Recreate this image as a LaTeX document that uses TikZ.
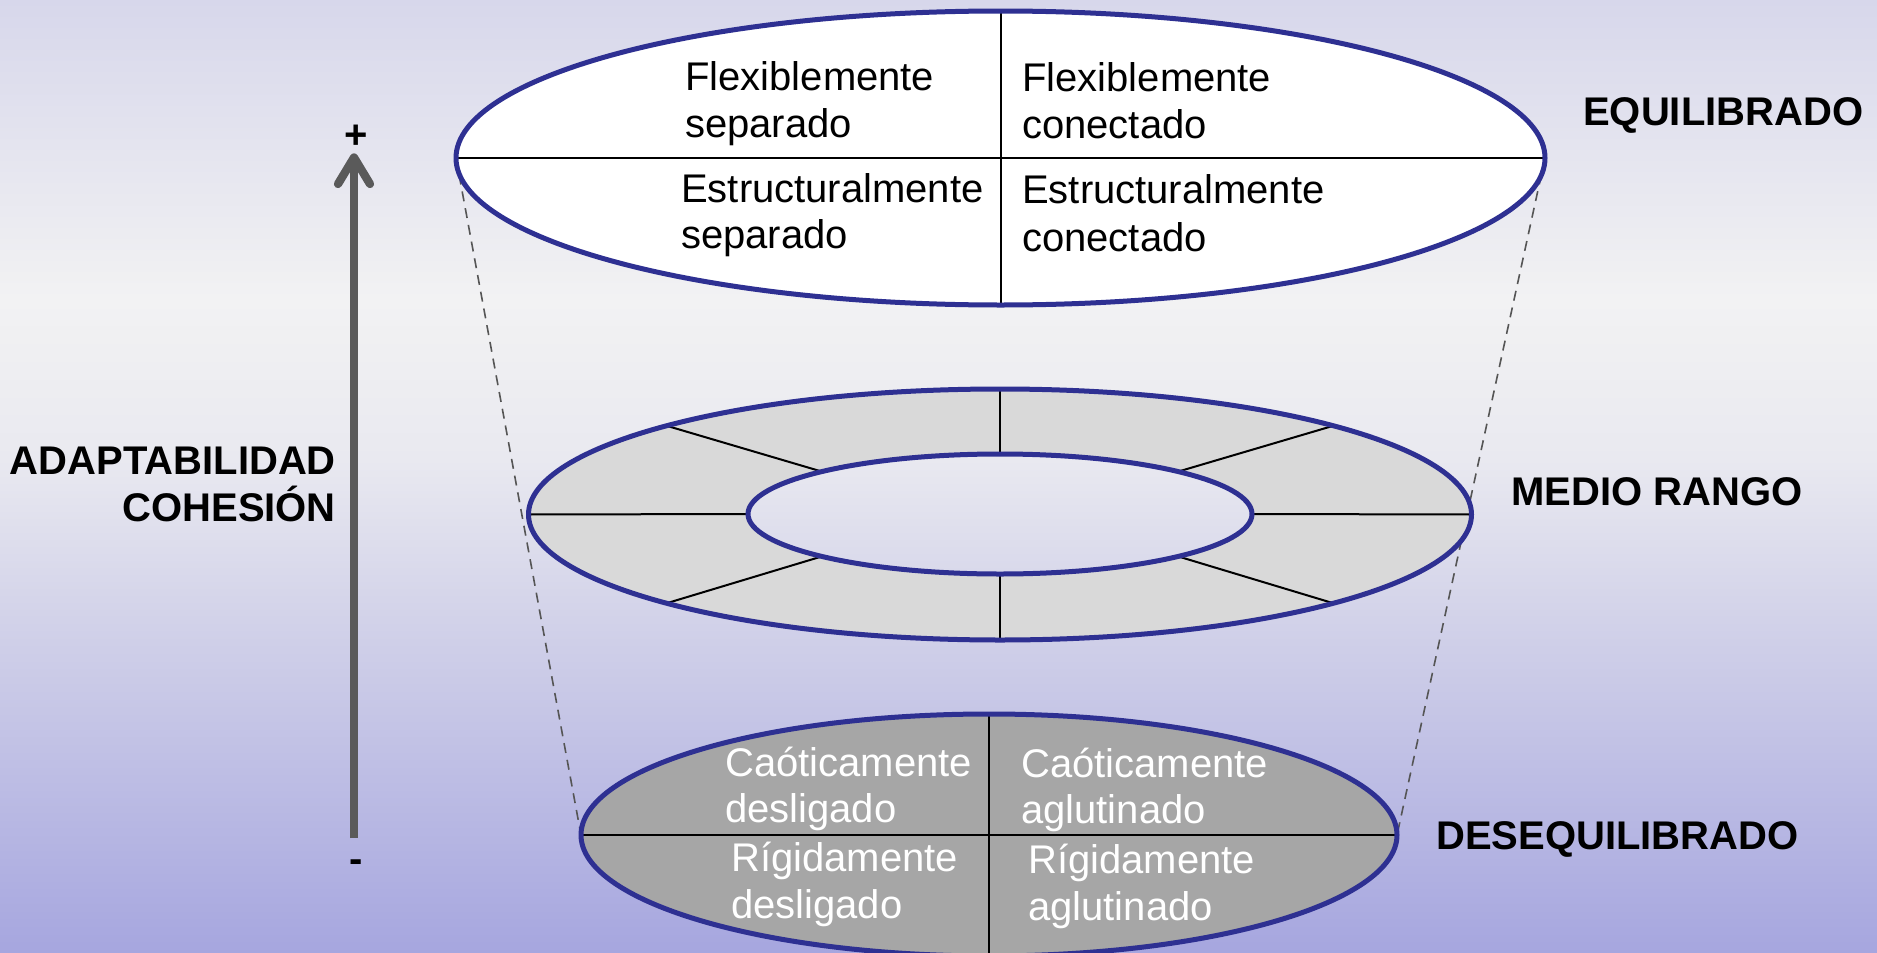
\documentclass[tikz,border=0pt]{standalone}
\usepackage{fontspec}
\setmainfont{Liberation Sans}
\definecolor{bgtop}{RGB}{215,215,235}
\definecolor{bga}{RGB}{242,242,243}
\definecolor{bgb}{RGB}{233,233,240}
\definecolor{bgc}{RGB}{210,210,233}
\definecolor{bgbot}{RGB}{166,166,223}
\definecolor{rimblue}{RGB}{46,48,146}
\definecolor{ringgray}{RGB}{217,217,217}
\definecolor{botgray}{RGB}{166,166,166}
\definecolor{axisgray}{RGB}{90,90,90}
\definecolor{dashgray}{RGB}{85,85,85}
\pgfdeclareverticalshading{bgshade}{100bp}{color(0bp)=(bgbot); color(25bp)=(bgbot); color(42.5bp)=(bgc); color(50.9bp)=(bgb); color(59.3bp)=(bga); color(75bp)=(bgtop); color(100bp)=(bgtop)}
\begin{document}
\begin{tikzpicture}[x=1pt,y=-1pt,
  txt/.style={font=\fontsize{40}{47}\selectfont, inner sep=0pt, anchor=base west},
  wtxt/.style={txt, text=white},
  lbl/.style={font=\fontsize{40}{47}\selectfont\bfseries, inner sep=0pt},
  outline/.style={draw=rimblue, line width=5pt},
  divider/.style={draw=black, line width=2pt},
  dashline/.style={draw=dashgray, line width=1.6pt, dash pattern=on 10pt off 7pt},
  axisline/.style={draw=axisgray, line width=8.3pt}]
\useasboundingbox (0,0) rectangle (1877,953);
\shade[shading=bgshade] (0,0) rectangle (1877,953);

% end points of the guide lines
\coordinate (TL) at (456,158);
\coordinate (TR) at (1545,158);
\coordinate (BL) at (581,835);
\coordinate (BR) at (1397,835);
\draw[dashline] (TL) -- (BL);
\draw[dashline] (TR) -- (BR);

% top ellipse
\fill[white] (1000.5,158) ellipse [x radius=544.5, y radius=147];
\coordinate (TT) at (1001,11);
\coordinate (TB) at (1001,305);
\draw[divider] (TL) -- (TR);
\draw[divider] (TT) -- (TB);
\draw[outline] (1000.5,158) ellipse [x radius=544.5, y radius=147];

% middle ring
\fill[ringgray, even odd rule] (1000,514.5) ellipse [x radius=471.5, y radius=125.5]
  (1000,514) ellipse [x radius=252, y radius=60];
\foreach \a in {0,45,...,315}{
  \draw[divider] ({1000+252*cos(\a)},{514+60*sin(\a)}) -- ({1000+471.5*cos(\a)},{514.5+125.5*sin(\a)});
}
\draw[outline] (1000,514.5) ellipse [x radius=471.5, y radius=125.5];
\draw[outline] (1000,514) ellipse [x radius=252, y radius=60];

% bottom ellipse
\fill[botgray] (989,835) ellipse [x radius=408, y radius=121];
\coordinate (BT) at (989,714);
\coordinate (BB) at (989,960);
\draw[divider] (BL) -- (BR);
\draw[divider] (BT) -- (BB);
\draw[outline] (989,835) ellipse [x radius=408, y radius=121];

% texts top ellipse
\node[txt] (t1a) at (685,90) {Flexiblemente};
\node[txt] (t1b) at (685,137) {separado};
\node[txt] (t2a) at (1022,91.5) {Flexiblemente};
\node[txt] (t2b) at (1022,138.5) {conectado};
\node[txt] (t3a) at (681,202) {Estructuralmente};
\node[txt] (t3b) at (681,248.5) {separado};
\node[txt] (t4a) at (1022,203) {Estructuralmente};
\node[txt] (t4b) at (1022,251) {conectado};

% texts bottom ellipse
\node[wtxt] (b1a) at (725,776) {Caóticamente};
\node[wtxt] (b1b) at (725,822) {desligado};
\node[wtxt] (b2a) at (1021,777) {Caóticamente};
\node[wtxt] (b2b) at (1021,823.5) {aglutinado};
\node[wtxt] (b3a) at (731,871.5) {Rígidamente};
\node[wtxt] (b3b) at (731,918) {desligado};
\node[wtxt] (b4a) at (1028,873.5) {Rígidamente};
\node[wtxt] (b4b) at (1028,920) {aglutinado};

% level labels
\node[lbl, anchor=base west] (eq) at (1583,125) {EQUILIBRADO};
\node[lbl, anchor=base west] (mr) at (1511,505) {MEDIO RANGO};
\node[lbl, anchor=base west] (deq) at (1436,849) {DESEQUILIBRADO};

% axis
\node[lbl, anchor=base east] (ad) at (336,474) {ADAPTABILIDAD};
\node[lbl, anchor=base east] (co) at (336,521.5) {COHESIÓN};
\coordinate (ax0) at (354,838);
\coordinate (ax1) at (354,160);
\coordinate (hl) at (338,184);
\coordinate (hp) at (354,157.5);
\coordinate (hr) at (370,184);
\draw[axisline] (ax0) -- (ax1);
\draw[axisline, line cap=round, line join=round] (hl) -- (hp) -- (hr);
\node[lbl] (plus) at (356,137) {+};
\node[lbl] (minus) at (356,866) {-};
\end{tikzpicture}
\end{document}
